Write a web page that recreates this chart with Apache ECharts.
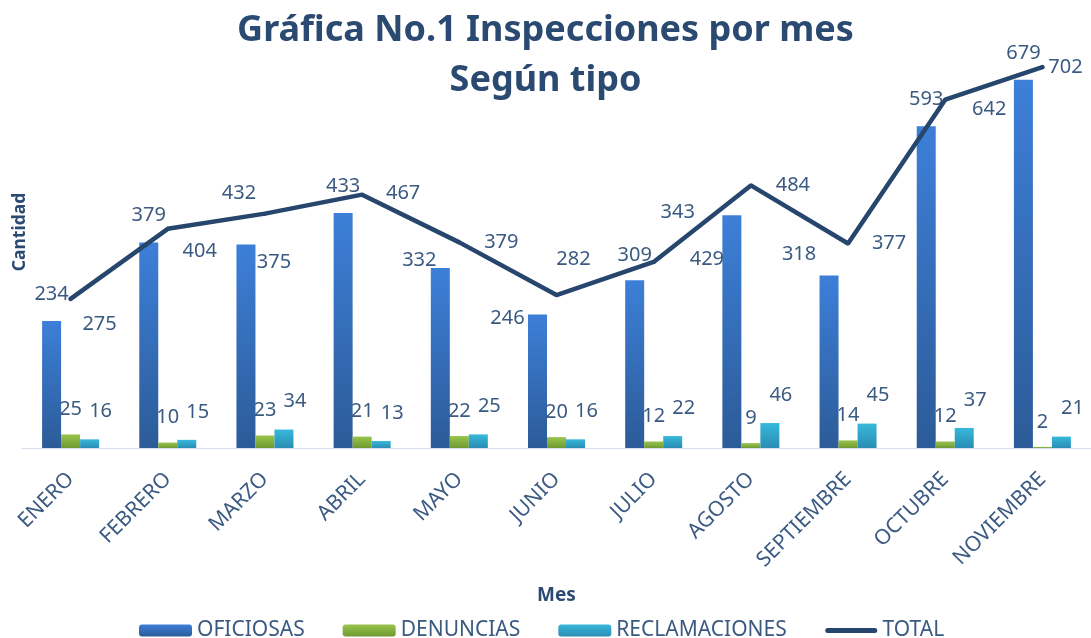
<!DOCTYPE html>
<html>
<head>
<meta charset="utf-8">
<title>Inspecciones por mes</title>
<script src="https://cdn.jsdelivr.net/npm/echarts@6/dist/echarts.min.js"></script>
<style>
    html, body { margin: 0; padding: 0; background: #fff; }
    #chart { width: 1091px; height: 638px; }
</style>
</head>
<body>
<div id="chart"></div>
<script>
    // datos
    const meses = ['ENERO', 'FEBRERO', 'MARZO', 'ABRIL', 'MAYO', 'JUNIO', 'JULIO', 'AGOSTO', 'SEPTIEMBRE', 'OCTUBRE', 'NOVIEMBRE']
    const oficiosas = [234, 379, 375, 433, 332, 246, 309, 429, 318, 593, 679]
    const denuncias = [25, 10, 23, 21, 22, 20, 12, 9, 14, 12, 2]
    const reclamaciones = [16, 15, 34, 13, 25, 16, 22, 46, 45, 37, 21]
    const total = [275, 404, 432, 467, 379, 282, 343, 484, 377, 642, 702]

    // desplazamiento manual de etiquetas (como en el original)
    const ofiLabelShift = [[0, 0], [0, 0], [28, 45], [0, 0], [-21, 19], [-30, 31], [0, 2], [-25, 71], [-30, 6], [0, 0], [0, 1]]
    const totalLabelShift = [[29, 25], [32, 22], [-26, -20], [41, -1], [42, 0], [17, -36], [24, -50], [42, 0], [41, 0], [44, 10], [23, 0]]

    const txtColor = '#3b5a82'
    const fontFam = '"Noto Sans", "DejaVu Sans", sans-serif'

    function grad(top, bottom) {
        return new echarts.graphic.LinearGradient(0, 0, 0, 1, [
            { offset: 0, color: top },
            { offset: 1, color: bottom }
        ])
    }

    const chart = echarts.init(document.getElementById('chart'))

    let option = {
        textStyle: { fontFamily: fontFam },
        title: {
            text: 'Gráfica No.1 Inspecciones por mes\nSegún tipo',
            left: 'center',
            top: 1,
            textStyle: {
                color: '#2b4a72',
                fontSize: 36,
                fontWeight: 'bold',
                lineHeight: 50,
                fontFamily: fontFam
            }
        },
        graphic: [
            {
                type: 'text',
                x: 20,
                y: 232,
                rotation: Math.PI / 2,
                style: {
                    text: 'Cantidad',
                    fill: '#2b4a72',
                    font: 'bold 17.5px ' + fontFam,
                    textAlign: 'center',
                    textVerticalAlign: 'middle'
                }
            }
        ],
        legend: {
            left: 134,
            bottom: -8,
            itemWidth: 53,
            itemHeight: 12,
            itemGap: 38,
            textStyle: { color: txtColor, fontSize: 21, fontFamily: fontFam },
            data: [
                'OFICIOSAS',
                'DENUNCIAS',
                'RECLAMACIONES',
                {
                    name: 'TOTAL',
                    icon: 'path://M0,0L0,0M0,12L0,12M3,3.5L50,3.5A2.5,2.5,0,0,1,50,8.5L3,8.5A2.5,2.5,0,0,1,3,3.5Z'
                }
            ]
        },
        grid: {
            left: 22,
            top: 14,
            width: 1073,
            height: 434
        },
        xAxis: {
            type: 'category',
            data: meses,
            name: 'Mes',
            nameLocation: 'middle',
            nameGap: 138,
            nameTextStyle: { color: '#2b4a72', fontSize: 19, fontWeight: 'bold' },
            axisTick: { show: false },
            axisLine: { lineStyle: { color: '#d5dff0', width: 1 } },
            axisLabel: {
                rotate: 45,
                margin: 28,
                color: txtColor,
                fontSize: 21,
                fontFamily: fontFam
            }
        },
        yAxis: {
            type: 'value',
            min: 0,
            max: 800,
            show: false
        },
        series: [
            {
                name: 'OFICIOSAS',
                type: 'bar',
                barWidth: 19,
                barGap: '0%',
                itemStyle: { color: grad('#3d7fd8', '#2c5b98') },
                label: {
                    show: true,
                    position: 'top',
                    distance: 17,
                    color: txtColor,
                    fontSize: 20
                },
                data: oficiosas.map((v, i) => ({ value: v, label: { offset: ofiLabelShift[i] } }))
            },
            {
                name: 'DENUNCIAS',
                type: 'bar',
                barWidth: 19,
                barGap: '0%',
                itemStyle: { color: grad('#98c44c', '#6f9a33') },
                label: {
                    show: true,
                    position: 'top',
                    distance: 15,
                    color: txtColor,
                    fontSize: 20
                },
                data: denuncias
            },
            {
                name: 'RECLAMACIONES',
                type: 'bar',
                barWidth: 19,
                barGap: '0%',
                itemStyle: { color: grad('#38b8db', '#2a8db3') },
                label: {
                    show: true,
                    position: 'top',
                    distance: 17,
                    offset: [11, -1],
                    color: txtColor,
                    fontSize: 20
                },
                data: reclamaciones
            },
            {
                name: 'TOTAL',
                type: 'line',
                symbol: 'circle',
                symbolSize: 4,
                z: 5,
                lineStyle: { color: '#27466d', width: 4.5, cap: 'round' },
                itemStyle: { color: '#27466d' },
                label: {
                    show: true,
                    position: 'inside',
                    color: txtColor,
                    fontSize: 20
                },
                data: total.map((v, i) => ({ value: v, label: { offset: totalLabelShift[i] } }))
            }
        ]
    }

    option && chart.setOption(option)
    window.addEventListener('resize', () => {
        chart.resize()
    })
</script>
</body>
</html>
